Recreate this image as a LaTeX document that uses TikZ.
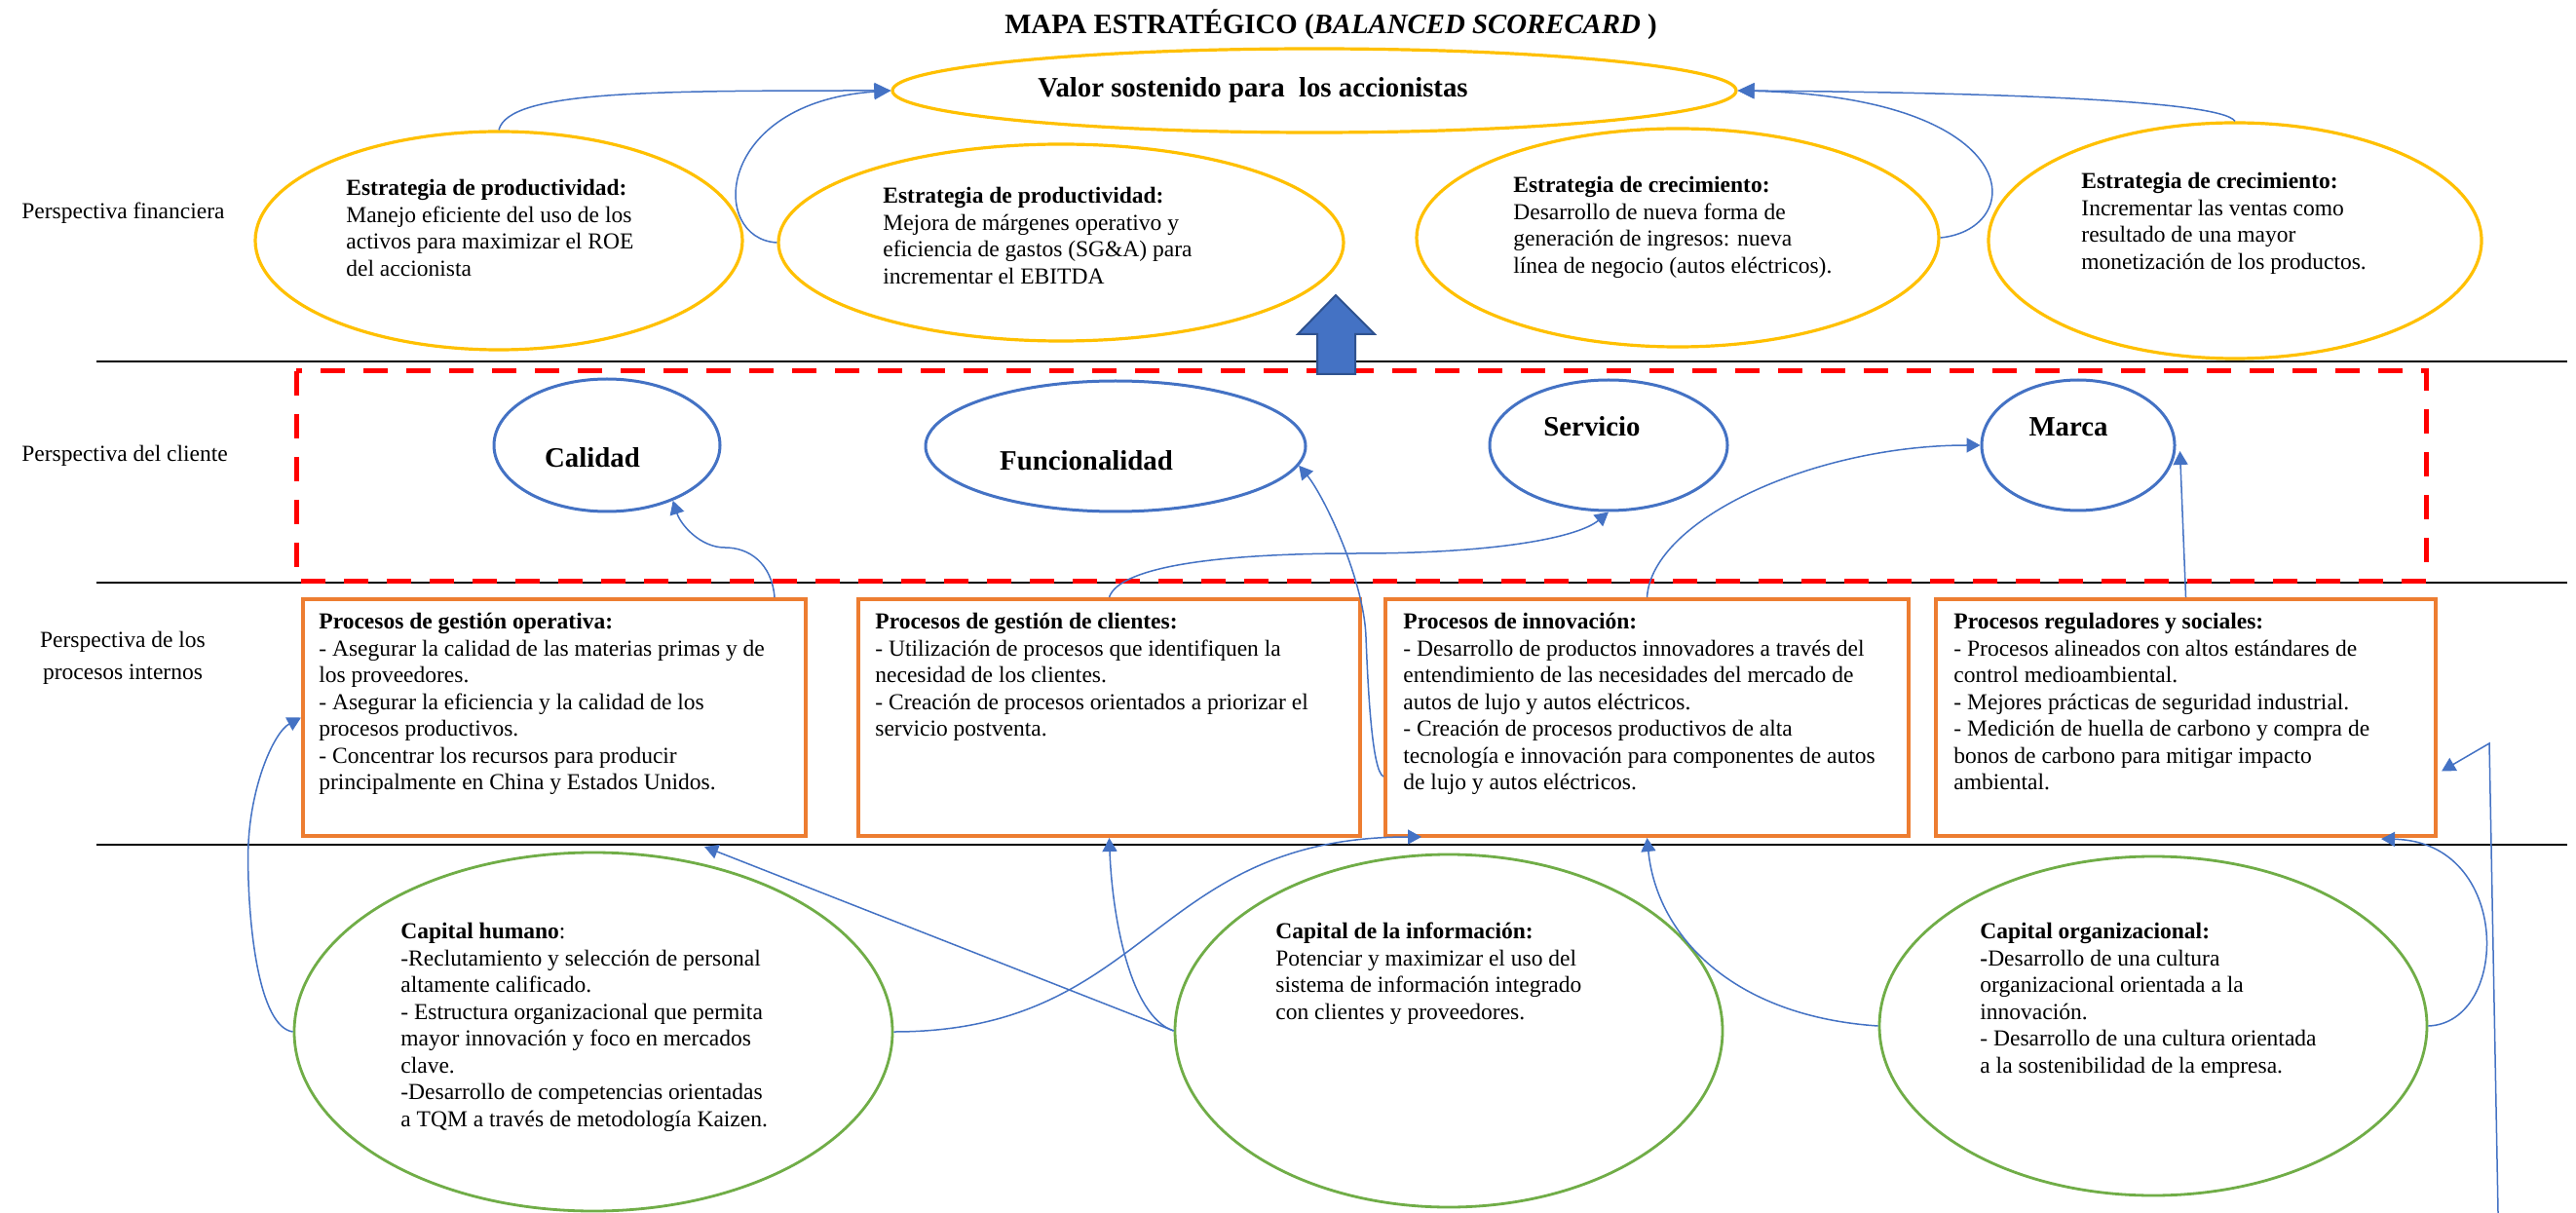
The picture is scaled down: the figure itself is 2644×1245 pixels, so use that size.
\documentclass[tikz,border=0pt]{standalone}
\usepackage{fontspec}
\setmainfont{Liberation Serif}
\usetikzlibrary{shapes.geometric,arrows.meta,calc}

\definecolor{finy}{HTML}{FFC000}
\definecolor{cblue}{HTML}{4472C4}
\definecolor{pora}{HTML}{ED7D31}
\definecolor{lgreen}{HTML}{70AD47}
\definecolor{bdark}{HTML}{2F528F}
\definecolor{dashred}{HTML}{FF0000}

\begin{document}
\begin{tikzpicture}[x=0.5pt,y=-0.5pt,
  finoval/.style={ellipse, draw=finy, line width=1.6pt, inner sep=0pt},
  custoval/.style={ellipse, draw=cblue, line width=1.5pt, inner sep=0pt},
  learnoval/.style={ellipse, draw=lgreen, line width=1.4pt, inner sep=0pt},
  procbox/.style={draw=pora, line width=2pt, inner sep=0pt, anchor=north west},
  body/.style={font=\fontsize{11.75}{13.75}\selectfont, align=left, anchor=north west, inner sep=0pt},
  lanelabel/.style={font=\fontsize{11.75}{16.5}\selectfont, inner sep=0pt},
  head/.style={font=\fontsize{14.4}{16}\selectfont\bfseries, inner sep=0pt, anchor=base},
  lane/.style={draw=black, line width=1pt},
  link/.style={draw=cblue, line width=0.75pt, -{Triangle[length=7pt,width=7.5pt]}},
  toplink/.style={draw=cblue, line width=0.75pt, -{Triangle[length=8.5pt,width=8pt]}},
]
\path[use as bounding box, fill=white] (0,0) rectangle (2644,1245);

% ---------- title ----------
\node[head] (title) at (1366,35) {MAPA ESTRATÉGICO (\textit{BALANCED SCORECARD} )};

% ---------- lane separators ----------
\draw[lane] (99,371) -- (2635,371);
\draw[lane] (99,598) -- (2635,598);
\draw[lane] (99,867) -- (2635,867);

% ---------- lane labels ----------
\node[lanelabel, anchor=west] (lfin) at (22,219) {Perspectiva financiera};
\node[lanelabel, anchor=west] (lcli) at (22,468) {Perspectiva del cliente};
\node[lanelabel, align=center] (lint) at (126,675) {Perspectiva de los\\procesos internos};

% ---------- financial perspective ----------
\node[finoval, minimum width=433pt, minimum height=43pt] (V) at (1349,93) {};
\node[head] (Vtxt) at (1286,100) {Valor sostenido para\ \ los accionistas};

\node[finoval, minimum width=250pt, minimum height=112pt] (E1) at (512,247) {};
\node[finoval, minimum width=290pt, minimum height=101pt] (E2) at (1089,249) {};
\node[finoval, minimum width=268pt, minimum height=112pt] (E3) at (1722,244) {};
\node[finoval, minimum width=253pt, minimum height=121pt] (E4) at (2294,247) {};

\node[body] (E1t) at (355,184) {\textbf{Estrategia de productividad:}\\Manejo eficiente del uso de los\\activos para maximizar el ROE\\del accionista};
\node[body] (E2t) at (906,192) {\textbf{Estrategia de productividad:}\\Mejora de márgenes operativo y\\eficiencia de gastos (SG\&A) para\\incrementar el EBITDA};
\node[body] (E3t) at (1553,181) {\textbf{Estrategia de crecimiento:}\\Desarrollo de nueva forma de\\generación de ingresos: nueva\\línea de negocio (autos eléctricos).};
\node[body] (E4t) at (2136,177) {\textbf{Estrategia de crecimiento:}\\Incrementar las ventas como\\resultado de una mayor\\monetización de los productos.};

% ---------- customer perspective ----------
\draw[dashred, line width=2.5pt, dash pattern=on 12.5pt off 9.5pt] (304,381) rectangle (2490,596);

\node[custoval, minimum width=116pt, minimum height=68pt] (Cal) at (623,457) {};
\node[custoval, minimum width=195pt, minimum height=67pt] (Func) at (1145,458) {};
\node[custoval, minimum width=122pt, minimum height=67pt] (Serv) at (1651,457) {};
\node[custoval, minimum width=99pt, minimum height=67pt] (Marca) at (2133,457) {};
\node[head] (Calt) at (608,480) {Calidad};
\node[head] (Funct) at (1115,483) {Funcionalidad};
\node[head] (Servt) at (1634,448) {Servicio};
\node[head] (Marcat) at (2123,448) {Marca};

% block arrow rising into the financial lane
\draw[bdark, fill=cblue, line width=1pt, line join=miter]
  (1352,384) -- (1352,343) -- (1332,343) -- (1371,303) -- (1411,343) -- (1391,343) -- (1391,384) -- cycle;

% ---------- internal processes ----------
\node[procbox, minimum width=258pt, minimum height=121.5pt] (P1) at (309,613) {};
\node[procbox, minimum width=257.5pt, minimum height=121.5pt] (P2) at (879,613) {};
\node[procbox, minimum width=268.5pt, minimum height=121.5pt] (P3) at (1420,613) {};
\node[procbox, minimum width=256.5pt, minimum height=121.5pt] (P4) at (1985,613) {};

\node[body] (P1t) at (327,629) {\textbf{Procesos de gestión operativa:}\\- Asegurar la calidad de las materias primas y de\\los proveedores.\\- Asegurar la eficiencia y la calidad de los\\procesos productivos.\\- Concentrar los recursos para producir\\principalmente en China y Estados Unidos.};
\node[body] (P2t) at (898,629) {\textbf{Procesos de gestión de clientes:}\\- Utilización de procesos que identifiquen la\\necesidad de los clientes.\\- Creación de procesos orientados a priorizar el\\servicio postventa.};
\node[body] (P3t) at (1440,629) {\textbf{Procesos de innovación:}\\- Desarrollo de productos innovadores a través del\\entendimiento de las necesidades del mercado de\\autos de lujo y autos eléctricos.\\- Creación de procesos productivos de alta\\tecnología e innovación para componentes de autos\\de lujo y autos eléctricos.};
\node[body] (P4t) at (2005,629) {\textbf{Procesos reguladores y sociales:}\\- Procesos alineados con altos estándares de\\control medioambiental.\\- Mejores prácticas de seguridad industrial.\\- Medición de huella de carbono y compra de\\bonos de carbono para mitigar impacto\\ambiental.};

% ---------- learning and growth ----------
\node[learnoval, minimum width=307pt, minimum height=184pt] (G1) at (609,1059) {};
\node[learnoval, minimum width=281pt, minimum height=181pt] (G2) at (1487,1058) {};
\node[learnoval, minimum width=281pt, minimum height=174pt] (G3) at (2210,1053) {};

\node[body] (G1t) at (411,947) {\textbf{Capital humano}:\\-Reclutamiento y selección de personal\\altamente calificado.\\- Estructura organizacional que permita\\mayor innovación y foco en mercados\\clave.\\-Desarrollo de competencias orientadas\\a TQM a través de metodología Kaizen.};
\node[body] (G2t) at (1309,947) {\textbf{Capital de la información:}\\Potenciar y maximizar el uso del\\sistema de información integrado\\con clientes y proveedores.};
\node[body] (G3t) at (2032,947) {\textbf{Capital organizacional:}\\\textbf{-}Desarrollo de una cultura\\organizacional orientada a la\\innovación.\\- Desarrollo de una cultura orientada\\a la sostenibilidad de la empresa.};

% ---------- links: financial ----------
\draw[toplink] (E1.north) .. controls +(10,-40) and +(-250,0) .. (V.west);
\draw[toplink] (E2.west) .. controls +(-70,-4) and +(-181,12) .. (V.west);
\draw[toplink] (E3.east) .. controls +(90,-9) and +(298,7) .. (V.east);
\draw[toplink] (E4.north) .. controls +(-15,-22) and +(250,2) .. (V.east);

% ---------- links: processes to customer ----------
\draw[link] ($(P1.north east)+(-34,0)$) .. controls +(-3,-35) and +(25,0) .. ($(P1.north east)+(-85,-51)$) .. controls +(-25,0) and +(8,25) .. (Cal.-40);
\draw[link] (P2.north) .. controls +(10,-30) and +(-150,0) .. ($(P2.north)+(254,-45)$) .. controls +(150,0) and +(-30,25) .. (Serv.south);
\draw[link] ($(P3.south west)+(0,-63)$) .. controls +(-12,-5) and +(2,50) .. ($(P3.south west)+(-18,-206)$) .. controls +(-2,-60) and +(25,30) .. (Func.-6);
\draw[link] (P3.north) .. controls +(5,-80) and +(-170,0) .. (Marca.west);
\draw[link] (P4.north) -- ($(Marca.east)+(4,6)$);

% ---------- links: learning to processes ----------
\draw[link] (G1.west) .. controls +(-35,-5) and +(0,70) .. ($(G1.west)+(-46,-179)$) .. controls +(0,-70) and +(-28,15) .. (P1.west);
\draw[link] (G2.west) -- ($(P1.south)+(154,9)$);
\draw[link] (G2.west) .. controls +(-45,-15) and +(3,80) .. (P2.south);
\draw[link] (G1.east) .. controls +(264,0) and +(-279,0) .. ($(P3.south west)+(39,-1)$);
\draw[link] (G3.west) .. controls +(-150,-10) and +(10,100) .. (P3.south);
\draw[link] (G3.east) .. controls +(84,-3) and +(135,3) .. ($(P4.south east)+(-58,1)$);
\coordinate (feed) at (2564,1245);
\coordinate (bend) at (2555,763);
\draw[link] (feed) -- (bend) -- ($(P4.east)+(4,55)$);

\end{tikzpicture}
\end{document}
